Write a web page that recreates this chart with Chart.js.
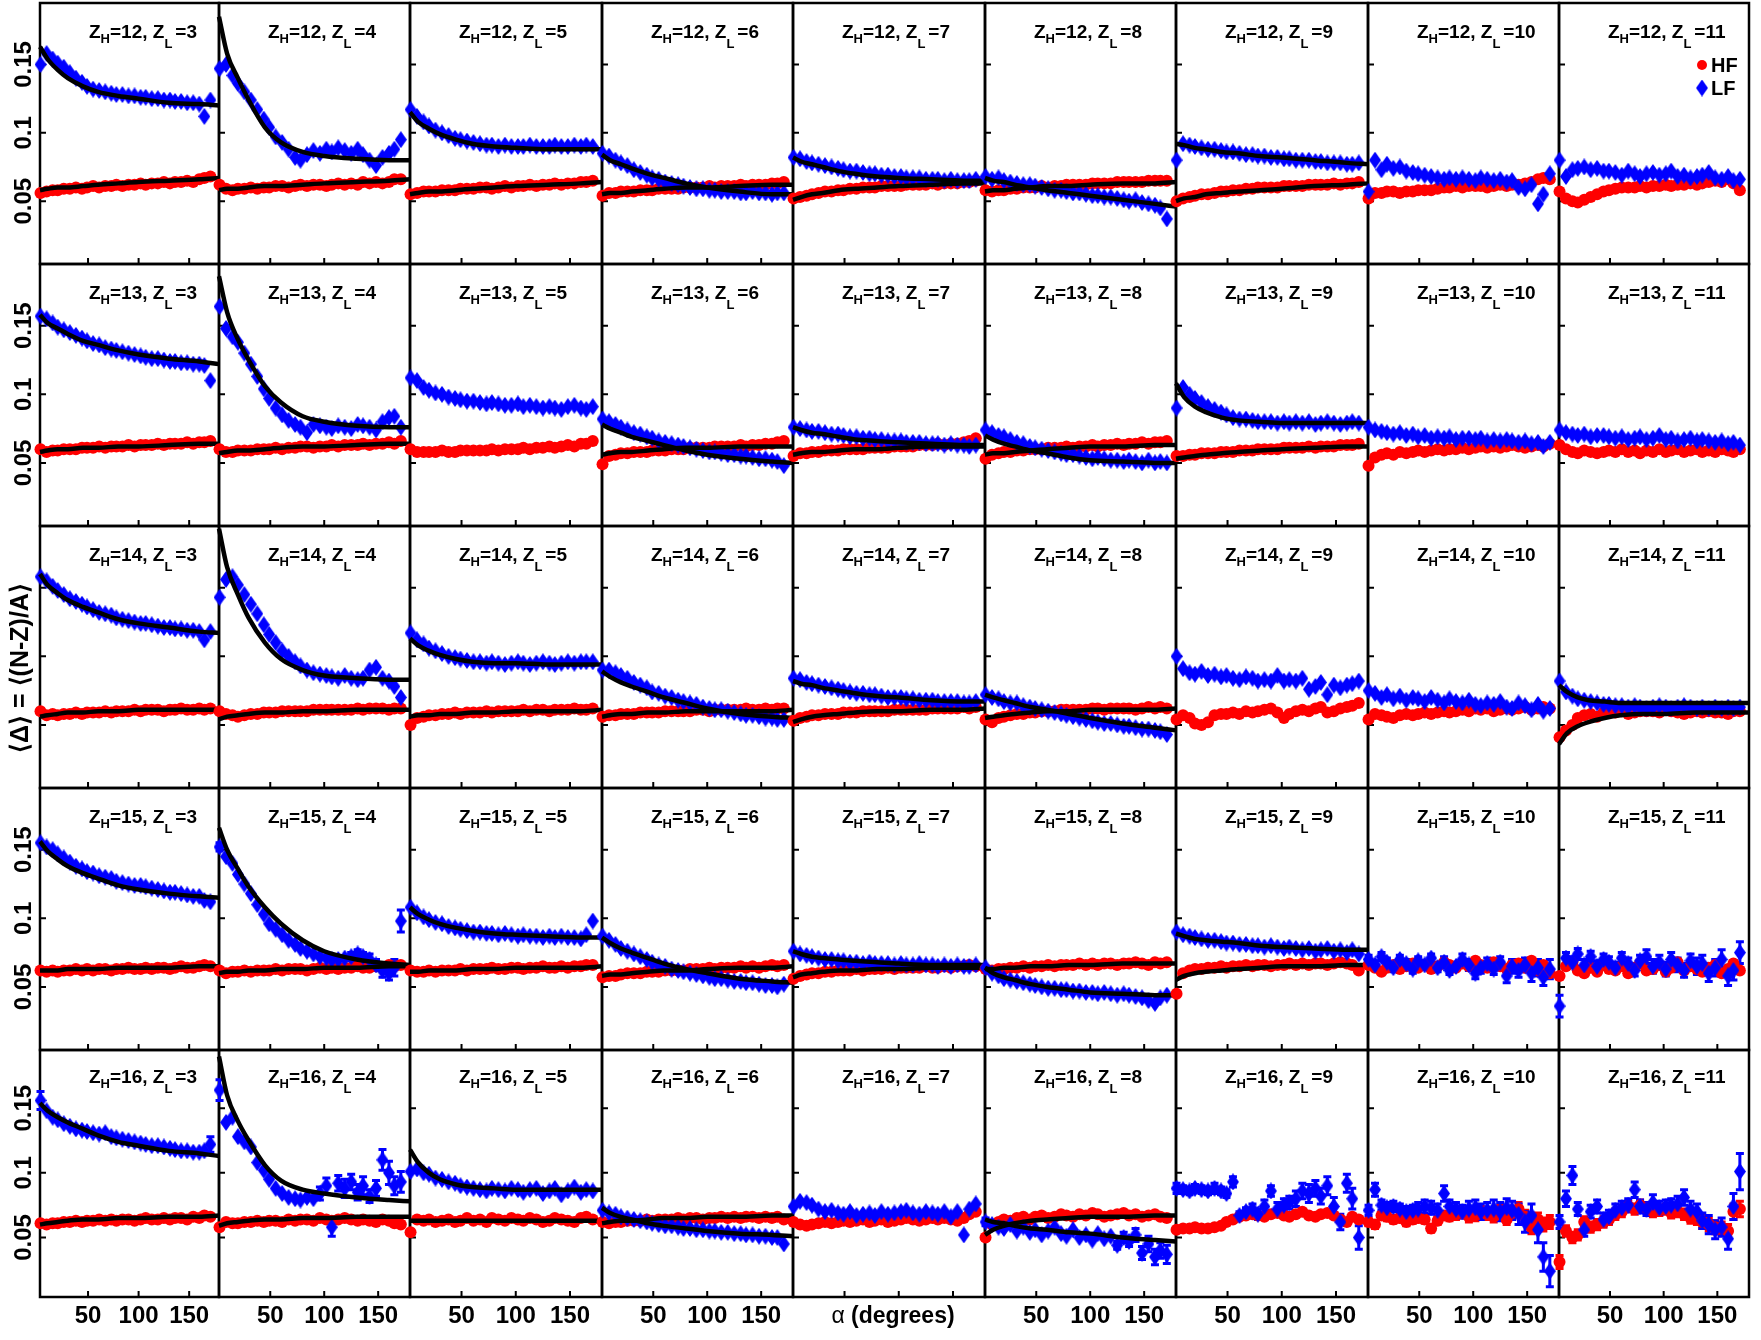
<!DOCTYPE html>
<html>
<head>
<meta charset="utf-8">
<title>HF / LF neutron excess vs alpha</title>
<script src="https://cdn.jsdelivr.net/npm/chart.js@4.4.1/dist/chart.umd.min.js"></script>
<style>
  body { margin: 0; background: #fff; }
  #wrap { position: relative; width: 1761px; height: 1340px; overflow: hidden; }
  #wrap canvas { position: absolute; }
</style>
</head>
<body>
<div id="wrap"></div>
<script>
// angle bins (degrees) of the data points
const alpha = [3,9,15,20,26,32,38,44,49,55, 61,67,73,78,84,90,96,102,107,113, 119,125,131,136,142,148,154,160,165,171];
const fitAlpha = [2.5,10,20,30,45,60,80,100,130,160,179.5];

const zH = [12, 13, 14, 15, 16];
const zL = [3, 4, 5, 6, 7, 8, 9, 10, 11];

const yTicks = [0.05, 0.1, 0.15];
const yTickLabels = ["0.05", "0.1", "0.15"];
const xTicks = [50, 100, 150];
const xTickLabels = ["50", "100", "150"];

// <Delta> in units of 1e-3, one list per panel (Z_L = 3 .. 11)
// Z_H = 12
const hf12 = [
  [56,57,58,58,59,59,60,59,60,61, 60,61,61,62,61,62,62,63,62,63, 63,64,63,64,64,65,64,66,67,68],
  [62,59,58,59,59,60,59,60,60,61, 61,60,61,62,61,62,62,61,62,63, 62,63,62,64,63,64,63,64,66,66],
  [55,56,57,57,57,58,58,58,59,59, 59,60,60,59,60,61,60,61,61,62, 61,62,62,63,62,63,63,64,64,65],
  [54,56,56,57,57,57,58,58,58,59, 59,59,59,60,60,60,60,61,60,61, 61,61,62,61,62,62,62,63,63,64],
  [52,53,54,55,56,57,57,58,58,59, 59,60,60,60,61,61,61,61,62,62, 62,62,63,62,63,63,63,64,64,65],
  [58,57,58,58,59,59,60,60,60,61, 60,61,61,62,62,62,62,63,63,63, 63,64,64,64,64,64,65,65,65,65],
  [50,52,53,54,55,55,56,57,57,58, 58,59,59,60,60,60,60,61,61,61, 61,62,62,62,62,63,62,63,63,64],
  [52,56,56,57,57,56,57,57,58,58, 58,59,60,60,61,60,61,61,61,60, 61,62,61,62,62,63,64,66,67,66],
  [57,52,50,49,51,53,55,57,58,59, 60,60,60,61,60,61,61,62,61,62, 62,63,62,63,64,65,64,66,63,58]
];
const lf12 = [
  [150,158,154,151,148,144,140,137,134,132, 131,130,129,128,128,127,127,126,126,125, 125,124,124,123,123,122,122,121,112,124],
  [147,150,142,136,130,124,117,110,104,97, 93,88,82,80,84,87,85,88,86,89, 87,85,88,84,80,76,82,85,88,95],
  [117,112,108,105,102,100,98,96,95,94, 93,92,91,91,90,91,90,90,90,91, 90,90,90,91,90,90,91,90,91,90],
  [85,83,80,78,76,73,71,69,67,66, 64,63,62,61,60,59,59,58,58,57, 57,57,56,56,57,56,56,55,56,56],
  [82,81,79,78,77,76,75,74,73,72, 72,71,70,70,69,69,68,68,67,67, 67,66,66,66,65,66,65,65,65,66],
  [68,66,67,65,64,63,62,62,61,60, 59,58,58,57,56,56,55,54,54,53, 53,52,51,50,51,49,48,47,45,37],
  [80,92,91,90,89,88,88,87,86,86, 85,84,84,83,83,82,82,81,81,80, 80,80,79,79,78,78,78,77,77,78],
  [57,80,73,77,74,75,72,71,70,69, 68,67,66,67,66,67,66,65,67,66, 65,66,64,65,60,59,62,48,55,70],
  [80,68,73,74,75,73,74,72,72,71, 69,72,70,68,70,71,69,70,72,68, 69,67,68,69,71,67,66,68,65,66]
];
const fitHF12 = [
  [58,59,60,60,61,62,63,64,65,66,67],
  [58,59,59,60,61,61,62,63,64,65,66],
  [55,56,57,57,58,59,60,61,62,63,64],
  [55,56,56,57,58,59,60,60,61,62,62],
  [51,53,55,56,58,59,60,61,62,63,63],
  [57,58,58,59,60,61,61,62,63,63,64],
  [50,52,53,55,56,57,58,59,61,62,63],
  null, null
];
const fitLF12 = [
  [163,154,146,140,134,130,127,125,122,121,120],
  [185,158,140,124,104,93,86,83,81,80,80],
  [115,108,103,99,95,92,90,89,88,88,88],
  [84,80,77,74,70,67,63,60,57,55,55],
  [82,79,77,75,72,70,68,67,66,65,65],
  [67,65,64,62,60,58,56,54,51,48,46],
  [92,91,89,88,86,85,83,82,80,78,77],
  null, null
];

// Z_H = 13
const hf13 = [
  [60,58,59,59,60,60,60,61,61,61, 62,61,62,62,62,63,62,63,63,63, 64,63,64,64,64,65,64,65,65,66],
  [60,58,58,59,59,59,60,60,60,61, 60,61,61,62,62,61,62,62,63,62, 63,63,63,64,63,64,64,65,64,66],
  [60,58,58,58,58,59,58,58,59,59, 59,59,59,60,59,60,60,60,61,60, 61,61,62,61,62,63,62,64,64,66],
  [49,55,56,57,57,58,58,58,59,59, 59,60,60,60,61,61,61,61,62,62, 62,62,63,62,63,63,64,64,65,66],
  [55,57,57,58,58,59,59,59,60,60, 60,60,61,61,61,61,62,62,62,62, 63,63,63,64,63,64,64,65,66,68],
  [53,56,57,58,58,59,59,60,60,60, 61,61,61,62,61,62,62,63,62,63, 63,64,63,64,64,65,64,65,65,66],
  [55,55,56,56,57,57,57,58,58,58, 59,59,59,60,60,60,60,61,61,61, 61,62,61,62,62,62,63,63,63,64],
  [48,54,56,57,56,58,57,58,59,58, 59,60,59,60,60,61,60,61,62,61, 62,61,62,63,62,61,62,63,62,64],
  [63,60,58,57,59,58,57,58,59,58, 60,58,59,57,59,58,60,58,59,60, 58,59,60,58,59,58,60,59,58,60]
];
const lf13 = [
  [157,155,152,149,147,145,143,141,139,137, 136,134,133,132,131,130,129,128,127,126, 126,125,124,124,123,123,122,122,121,110],
  [164,148,142,138,130,122,113,104,97,90, 85,81,78,76,72,78,77,76,75,77, 76,75,78,77,76,74,80,83,84,76],
  [112,110,105,103,101,100,98,97,96,95, 95,94,93,94,93,92,92,93,91,92, 91,90,91,90,89,91,92,90,89,91],
  [82,80,78,76,74,72,71,69,68,66, 65,64,63,62,61,60,59,58,58,57, 56,56,55,55,54,53,53,52,51,48],
  [76,75,74,73,73,72,71,71,70,69, 69,68,68,67,67,66,66,66,65,65, 65,64,64,64,63,64,63,63,62,63],
  [74,72,70,69,67,65,64,62,61,60, 59,58,57,56,56,55,54,53,54,53, 52,52,51,52,51,50,52,50,51,50],
  [90,105,100,97,94,91,89,87,85,83, 82,82,81,80,80,80,79,80,79,80, 79,80,78,79,80,79,78,79,80,79],
  [76,74,73,72,71,72,70,71,69,70, 68,69,68,69,67,68,68,67,68,66, 67,66,67,66,65,66,64,65,62,65],
  [74,72,71,70,71,69,70,70,69,68, 69,67,68,69,67,68,70,67,68,66, 67,68,66,67,66,65,66,64,65,63]
];
const fitHF13 = [
  [58,59,60,60,61,61,62,62,63,64,64],
  [57,58,59,59,60,61,62,62,63,64,64],
  null,
  [56,57,58,58,59,60,61,61,62,62,62],
  [56,57,58,58,59,60,60,61,62,62,62],
  [56,57,57,58,59,60,61,62,62,63,63],
  [53,54,55,56,57,58,59,60,61,62,62],
  null, null
];
const fitLF13 = [
  [158,152,148,144,139,136,132,129,126,124,122],
  [186,160,140,125,106,94,84,80,77,76,76],
  null,
  [78,75,72,69,66,63,59,56,53,51,50],
  [76,74,72,71,69,67,66,65,64,63,63],
  [70,67,64,62,59,57,54,52,51,50,50],
  [108,98,91,87,83,81,80,79,79,79,79],
  null, null
];

// Z_H = 14
const hf14 = [
  [60,57,58,57,58,58,59,58,59,59, 59,60,59,60,60,60,61,60,61,61, 61,60,61,61,62,61,61,62,61,62],
  [60,58,57,56,57,58,58,59,59,59, 60,60,60,60,60,61,61,61,61,61, 61,61,62,61,62,62,62,61,62,62],
  [50,55,56,57,57,58,58,59,58,59, 59,59,60,59,60,60,60,60,61,60, 61,61,60,61,61,61,62,61,61,62],
  [56,57,57,58,58,58,59,59,59,59, 60,60,60,60,60,61,61,60,61,61, 61,61,61,62,61,61,62,61,62,62],
  [53,55,56,57,57,58,58,58,59,59, 59,60,60,60,60,60,61,61,61,61, 61,61,62,62,62,62,62,63,62,63],
  [54,52,55,56,57,58,58,59,59,60, 60,60,61,61,61,61,61,62,62,61, 62,62,62,62,61,62,63,62,63,62],
  [54,57,55,51,50,52,57,58,58,59, 58,60,59,60,61,62,59,55,58,60, 61,60,62,63,59,60,62,63,64,66],
  [54,58,57,56,55,57,58,57,58,59, 58,59,60,59,60,61,60,62,61,62, 60,61,62,61,62,63,61,62,63,62],
  [41,46,50,55,57,58,56,59,60,59, 60,58,59,60,60,60,59,61,60,59, 58,59,60,59,60,59,59,58,60,60]
];
const lf14 = [
  [158,155,151,148,145,142,140,138,136,134, 132,131,130,128,127,126,125,124,124,123, 122,121,121,120,120,119,119,118,112,118],
  [143,156,158,152,145,138,131,123,116,110, 104,100,96,93,90,88,87,86,85,84, 86,84,83,84,90,92,84,82,78,70],
  [117,112,109,106,104,102,100,99,98,97, 96,96,95,96,95,94,95,96,95,94, 95,96,95,94,95,96,95,96,96,96],
  [90,90,88,86,84,81,79,77,74,73, 71,70,68,67,66,65,63,62,61,61, 60,59,58,57,57,56,55,55,54,54],
  [84,83,81,80,79,78,77,76,75,74, 73,73,72,72,71,70,70,70,69,69, 68,68,68,67,67,67,67,66,66,67],
  [72,70,69,67,66,66,64,63,62,61, 60,59,58,57,56,55,54,53,52,51, 51,50,49,49,48,47,47,46,45,43],
  [100,91,88,87,89,86,87,85,86,84, 83,85,84,82,83,82,86,82,83,82, 84,76,78,81,72,79,77,79,80,82],
  [75,73,70,72,69,71,68,70,69,67, 70,68,66,69,67,66,68,65,64,66, 65,67,63,62,66,64,61,65,60,62],
  [82,74,71,69,68,67,66,65,65,64, 64,63,64,63,62,63,64,63,62,63, 64,63,62,63,62,63,62,63,62,63]
];
const fitHF14 = [
  [56,57,58,59,59,60,60,61,61,61,61],
  [54,56,57,58,59,59,60,60,61,61,61],
  [56,57,57,58,58,59,59,60,60,60,61],
  [56,57,58,58,59,59,60,60,60,60,61],
  [52,54,56,57,58,59,60,60,61,61,62],
  [55,56,57,58,59,60,60,61,61,61,62],
  null, null,
  [36,44,49,52,55,57,58,58,59,59,59]
];
const fitLF14 = [
  [160,152,146,141,136,132,127,124,121,118,117],
  [193,165,145,128,110,98,90,86,84,83,83],
  [113,108,104,101,98,96,95,95,94,94,94],
  [89,85,81,78,74,70,66,62,58,56,55],
  [82,80,79,77,75,73,71,70,68,67,67],
  [72,70,68,66,63,61,58,55,51,48,46],
  null, null,
  [79,74,70,68,67,66,66,66,66,66,66]
];

// Z_H = 15
const hf15 = [
  [62,61,62,61,62,62,63,62,63,62, 63,63,62,63,63,64,63,63,64,63, 64,64,63,64,65,64,64,65,66,65],
  [62,60,61,61,62,61,62,62,62,63, 62,63,63,63,62,63,64,63,64,63, 64,64,65,64,64,65,64,66,65,66],
  [62,61,61,62,61,62,62,62,63,62, 63,63,63,64,63,63,64,64,63,64, 64,65,64,64,65,64,65,65,66,66],
  [57,58,58,59,60,60,60,61,61,61, 62,62,62,62,63,63,63,64,63,64, 64,64,65,64,65,64,65,66,65,66],
  [56,58,59,60,60,61,61,62,62,62, 63,62,63,63,63,64,63,64,64,64, 64,65,64,64,65,64,65,65,66,65],
  [63,62,63,63,64,64,65,64,65,65, 66,65,66,66,66,67,66,67,66,67, 67,66,67,67,68,67,66,68,67,68],
  [45,60,62,63,63,64,64,65,64,65, 65,66,65,66,66,65,66,66,67,66, 67,66,67,67,66,67,68,67,66,62],
  [66,64,61,64,66,63,65,67,64,66, 63,65,68,66,64,67,65,69,66,64, 68,65,63,66,67,64,69,62,66,60],
  [58,65,68,62,60,64,61,66,63,62, 65,60,64,67,62,63,66,61,64,68, 62,65,63,61,64,66,60,63,67,62]
];
const lf15 = [
  [155,152,150,147,144,141,138,136,134,133, 131,130,129,127,126,125,124,124,123,122, 121,120,119,119,118,117,116,116,113,112],
  [152,145,140,132,125,118,110,103,96,92, 88,84,81,78,76,74,72,71,70,70, 71,72,74,72,70,66,62,60,64,98],
  [108,104,101,99,97,96,94,93,92,91, 90,90,89,89,88,89,88,87,88,87, 87,86,87,86,87,86,86,85,88,98],
  [87,84,81,78,76,74,72,70,68,66, 65,63,62,61,60,59,58,57,56,56, 55,54,54,53,53,52,51,51,50,52],
  [76,74,73,72,71,70,70,69,69,68, 68,67,68,67,67,67,66,67,66,66, 67,66,66,65,66,65,66,65,65,66],
  [64,60,58,56,55,54,53,52,51,50, 49,49,48,48,47,47,46,46,45,46, 45,44,45,44,43,42,40,38,42,44],
  [90,88,87,86,85,84,84,83,82,82, 81,81,80,80,79,80,79,78,79,78, 77,78,76,77,78,76,77,75,77,74],
  [70,66,72,68,64,70,67,63,69,66, 71,64,68,62,65,70,66,60,64,67, 63,68,58,65,62,66,60,64,57,63],
  [36,71,68,74,66,72,65,70,68,64, 71,67,62,69,72,65,68,63,70,66, 62,69,65,67,60,64,70,58,62,75]
];
const fitHF15 = [
  [62,62,62,63,63,63,64,64,64,65,65],
  [60,61,61,62,62,63,63,64,64,65,65],
  [61,61,62,62,62,63,63,64,64,64,65],
  [58,59,59,60,61,62,62,63,64,64,65],
  [57,59,60,61,62,62,63,63,64,64,64],
  [63,63,64,64,65,65,66,66,67,67,67],
  [55,58,60,61,62,63,64,65,65,66,66],
  null, null
];
const fitLF15 = [
  [156,149,143,138,133,129,124,121,118,116,115],
  [166,150,136,123,108,96,84,76,70,67,66],
  [108,103,99,96,93,91,89,88,87,86,86],
  [86,82,78,75,71,67,63,60,56,54,53],
  [76,74,72,71,70,69,68,67,66,66,66],
  [64,60,57,55,52,50,48,46,45,44,44],
  [89,87,85,84,83,82,80,79,78,77,77],
  null, null
];

// Z_H = 16
const hf16 = [
  [61,60,61,61,62,62,63,62,63,63, 64,63,64,63,64,64,63,64,65,64, 64,65,64,65,65,64,66,65,67,66],
  [58,62,61,61,62,62,63,62,63,63, 62,64,63,64,64,63,65,64,63,64, 65,64,63,64,63,62,64,63,61,60],
  [54,64,63,64,62,63,64,62,63,65, 63,64,62,65,64,63,65,64,63,65, 64,62,63,65,64,63,62,65,66,64],
  [62,61,62,62,63,63,63,64,63,64, 64,64,65,64,65,65,64,65,65,66, 65,66,65,66,66,65,66,65,66,64],
  [62,60,59,60,61,62,61,62,63,62, 63,64,62,63,64,62,63,64,65,64, 63,64,65,64,65,64,63,65,68,70],
  [50,60,62,64,63,65,66,64,66,67, 65,66,68,67,66,68,67,69,68,66, 67,68,69,67,68,66,67,68,66,65],
  [56,57,57,58,57,57,58,59,62,64, 66,67,68,67,66,68,69,67,66,68, 70,67,66,68,69,67,64,62,66,64],
  [62,60,67,66,64,65,62,64,65,64, 57,63,67,66,68,69,66,67,70,68, 66,71,64,69,72,66,58,64,60,62],
  [31,55,50,52,62,58,60,62,64,68, 70,74,72,75,73,70,71,72,69,70, 68,65,64,62,60,58,57,55,70,72]
];
const lf16 = [
  [156,148,143,141,138,136,134,133,132,131, 130,131,128,127,126,125,124,123,122,121, 121,120,119,118,117,117,116,116,117,122],
  [164,139,143,128,124,120,108,102,95,88, 84,81,80,79,81,80,84,90,58,92, 88,93,85,90,82,88,110,100,90,93],
  [101,103,100,99,96,95,93,92,90,89, 88,87,86,88,87,86,88,87,85,87, 88,84,86,88,83,86,89,85,87,86],
  [71,69,68,66,65,64,63,62,61,60, 59,59,58,57,57,56,56,55,55,54, 54,53,53,52,52,51,51,50,50,45],
  [74,78,77,75,72,70,71,69,68,70, 67,68,69,67,70,68,69,70,71,69, 68,70,69,68,70,66,70,52,72,76],
  [62,60,58,57,60,55,58,54,56,52, 55,58,53,51,56,50,52,48,53,49, 51,44,50,47,52,38,45,35,40,37],
  [88,87,86,88,87,86,88,86,84,93, 67,70,72,68,74,86,72,75,77,80, 86,84,88,82,90,74,62,92,80,50],
  [71,87,75,73,74,72,70,71,72,74, 73,71,84,74,72,70,72,73,70,71, 72,70,73,71,68,62,67,56,35,24],
  [62,80,98,72,56,70,74,64,66,71, 73,75,87,74,72,77,73,74,75,76, 81,72,70,63,60,56,58,49,74,101]
];
const fitHF16 = [
  [60,61,62,63,64,64,65,65,66,66,67],
  [59,61,62,63,64,64,65,65,66,66,66],
  [63,63,63,63,63,63,63,63,63,63,63],
  [61,62,63,63,64,65,65,66,66,67,67],
  null,
  [52,56,59,61,63,64,65,66,66,67,67],
  null, null, null
];
const fitLF16 = [
  [154,148,143,139,134,129,124,121,117,115,113],
  [190,160,140,125,106,94,87,84,81,79,78],
  [118,108,100,95,91,89,88,87,87,87,87],
  [73,69,66,64,61,59,57,55,53,52,51],
  null,
  [64,62,61,59,57,56,54,53,50,48,47],
  null, null, null
];

// statistical errors (1e-3) where the bars stick out of the markers
const lfErr15 = [
  null,
  [3,0,0,0,0,0,0,0,0,0, 0,0,0,0,0,0,0,0,0,0, 0,3,3,3,4,4,5,5,6,8],
  null, null, null, null, null,
  [3,3,3,3,3,3,3,3,3,3, 3,3,4,3,3,4,4,4,4,4, 4,4,5,5,5,5,6,6,6,7],
  [8,4,4,4,4,4,4,4,4,4, 4,4,4,4,5,5,5,5,5,5, 5,5,6,6,6,6,7,7,7,8]
];
const lfErr16 = [
  [7,0,0,0,0,0,0,0,0,0, 0,0,0,0,0,0,0,0,0,0, 0,0,0,0,0,0,0,0,0,6],
  [8,0,0,0,0,0,0,0,0,0, 0,0,0,0,0,0,5,6,7,6, 7,6,6,7,5,6,8,9,7,8],
  null, null, null,
  [3,0,0,0,0,0,0,0,0,0, 0,0,0,0,0,0,0,0,0,0, 0,3,4,4,5,5,6,6,6,7],
  [4,3,3,3,3,3,4,3,3,4, 3,3,4,4,5,4,5,5,5,6, 6,7,6,6,7,7,6,7,8,9],
  [4,5,4,4,4,4,4,4,5,5, 5,5,6,5,5,5,6,6,6,6, 7,7,7,7,8,8,9,10,11,12],
  [5,6,7,5,5,5,5,5,5,5, 5,5,6,5,5,6,5,5,5,6, 6,6,6,6,7,7,7,8,10,14]
];
const hfErr16 = [
  null, null, null, null, null, null, null,
  [3,3,3,3,3,3,3,3,3,3, 3,3,3,3,4,4,4,4,4,4, 4,4,4,5,5,5,5,5,5,5],
  [5,4,4,4,4,4,4,4,4,4, 4,4,4,4,4,4,4,4,4,4, 4,4,4,5,5,5,5,5,6,6]
];

const hfRows = [hf12, hf13, hf14, hf15, hf16];
const lfRows = [lf12, lf13, lf14, lf15, lf16];
const fitHFRows = [fitHF12, fitHF13, fitHF14, fitHF15, fitHF16];
const fitLFRows = [fitLF12, fitLF13, fitLF14, fitLF15, fitLF16];
const lfErrRows = [null, null, null, lfErr15, lfErr16];
const hfErrRows = [null, null, null, null, hfErr16];

// page layout of the 5 x 9 grid of panels
const colLeft = [40, 219, 410, 602, 793, 985, 1176, 1368, 1559, 1749];
const rowTop = [3, 264, 526, 788, 1050, 1297];

const FONT = '"Liberation Sans", Arial, Helvetica, sans-serif';
const RED = "#ff0000";
const BLUE = "#0000ff";

// tall blue diamond used as LF marker
const diamond = document.createElement("canvas");
diamond.width = 12;
diamond.height = 17;
(function () {
  const d = diamond.getContext("2d");
  d.fillStyle = BLUE;
  d.beginPath();
  d.moveTo(6, 0);
  d.lineTo(12, 8.5);
  d.lineTo(6, 17);
  d.lineTo(0, 8.5);
  d.closePath();
  d.fill();
})();

function toPoints(xs, ys) {
  return xs.map((x, i) => ({ x: x, y: ys[i] / 1000 }));
}

function drawTitle(ctx, x, y, h, l) {
  const big = "bold 19px " + FONT;
  const small = "bold 13px " + FONT;
  ctx.fillStyle = "#000";
  ctx.textAlign = "left";
  ctx.textBaseline = "alphabetic";
  let cx = x;
  ctx.font = big;
  ctx.fillText("Z", cx, y);
  cx += ctx.measureText("Z").width;
  ctx.font = small;
  ctx.fillText("H", cx, y + 5);
  cx += ctx.measureText("H").width;
  ctx.font = big;
  const mid = "=" + h + ", Z";
  ctx.fillText(mid, cx, y);
  cx += ctx.measureText(mid).width;
  ctx.font = small;
  ctx.fillText("L", cx, y + 10);
  cx += ctx.measureText("L").width + 3;
  ctx.font = big;
  ctx.fillText("=" + l, cx, y);
}

function drawErrors(chart, ctx, ds) {
  if (!ds.errors) return;
  const xs = chart.scales.x, ys = chart.scales.y;
  ctx.strokeStyle = ds.errColor;
  ds.data.forEach((p, i) => {
    const e = ds.errors[i] / 1000;
    if (!e) return;
    const px = xs.getPixelForValue(p.x);
    const y1 = ys.getPixelForValue(p.y - e), y2 = ys.getPixelForValue(p.y + e);
    ctx.lineWidth = 3;
    ctx.beginPath();
    ctx.moveTo(px, y1);
    ctx.lineTo(px, y2);
    ctx.moveTo(px - 4, y1);
    ctx.lineTo(px + 4, y1);
    ctx.moveTo(px - 4, y2);
    ctx.lineTo(px + 4, y2);
    ctx.stroke();
  });
}

const panelPlugin = {
  id: "panel",
  beforeDatasetsDraw(chart) {
    const ctx = chart.ctx;
    const a = chart.chartArea;
    const xs = chart.scales.x, ys = chart.scales.y;
    ctx.save();
    ctx.strokeStyle = "#000";
    ctx.lineWidth = 2.5;
    ctx.strokeRect(a.left, a.top, a.right - a.left, a.bottom - a.top);
    // inward tick marks
    ctx.lineWidth = 2;
    ctx.beginPath();
    yTicks.forEach(v => {
      const py = ys.getPixelForValue(v);
      ctx.moveTo(a.left, py);
      ctx.lineTo(a.left + 6, py);
    });
    xTicks.forEach(v => {
      const px = xs.getPixelForValue(v);
      ctx.moveTo(px, a.bottom);
      ctx.lineTo(px, a.bottom - 6);
    });
    ctx.stroke();
    // error bars under the markers
    chart.data.datasets.forEach(ds => drawErrors(chart, ctx, ds));
    ctx.restore();
  },
  afterDraw(chart) {
    const o = chart.options.plugins.panel;
    const ctx = chart.ctx;
    const a = chart.chartArea;
    const xs = chart.scales.x, ys = chart.scales.y;
    ctx.save();
    drawTitle(ctx, a.left + 49, a.top + (o.row === 4 ? 33 : 35), o.h, o.l);

    ctx.fillStyle = "#000";
    if (o.col === 0) {
      ctx.textAlign = "center";
      ctx.textBaseline = "middle";
      if (o.row === 2) {
        // axis title replaces the tick labels of the middle row
        ctx.save();
        ctx.translate(a.left - 19, a.top + 142);
        ctx.rotate(-Math.PI / 2);
        ctx.font = "bold 25px " + FONT;
        ctx.fillText("\u27E8\u0394\u27E9 = \u27E8(N-Z)/A\u27E9", 0, 0);
        ctx.restore();
      } else {
        ctx.font = "bold 24px " + FONT;
        yTicks.forEach((v, i) => {
          ctx.save();
          ctx.translate(a.left - 16, ys.getPixelForValue(v));
          ctx.rotate(-Math.PI / 2);
          ctx.fillText(yTickLabels[i], 0, 0);
          ctx.restore();
        });
      }
    }
    if (o.row === 4) {
      ctx.textBaseline = "middle";
      if (o.col === 4) {
        const cx = a.left + 100, cy = a.bottom + 20;
        ctx.font = "23px " + FONT;
        const w1 = ctx.measureText("\u03B1").width;
        ctx.font = "bold 23px " + FONT;
        const w2 = ctx.measureText(" (degrees)").width;
        const x0 = cx - (w1 + w2) / 2;
        ctx.textAlign = "left";
        ctx.font = "23px " + FONT;
        ctx.fillText("\u03B1", x0, cy);
        ctx.font = "bold 23px " + FONT;
        ctx.fillText(" (degrees)", x0 + w1, cy);
      } else {
        ctx.font = "bold 24px " + FONT;
        ctx.textAlign = "center";
        xTicks.forEach((v, i) => {
          ctx.fillText(xTickLabels[i], xs.getPixelForValue(v), a.bottom + 19);
        });
      }
    }
    if (o.row === 0 && o.col === 8) {
      // legend
      const lx = a.left + 143;
      ctx.fillStyle = RED;
      ctx.beginPath();
      ctx.arc(lx, a.top + 62, 5, 0, Math.PI * 2);
      ctx.fill();
      ctx.drawImage(diamond, lx - diamond.width / 2, a.top + 85 - diamond.height / 2);
      ctx.fillStyle = "#000";
      ctx.font = "bold 20px " + FONT;
      ctx.textAlign = "left";
      ctx.textBaseline = "middle";
      ctx.fillText("HF", lx + 9, a.top + 63);
      ctx.fillText("LF", lx + 9, a.top + 86);
    }
    ctx.restore();
  }
};

const wrap = document.getElementById("wrap");

zH.forEach((h, r) => {
  zL.forEach((l, c) => {
    const L = colLeft[c], W = colLeft[c + 1] - L;
    const T = rowTop[r], H = rowTop[r + 1] - T;
    const pad = {
      left: c === 0 ? L : 8,
      right: 8,
      top: r === 0 ? T : 8,
      bottom: r === 4 ? 1340 - rowTop[5] : 8
    };
    const cv = document.createElement("canvas");
    cv.width = W + pad.left + pad.right;
    cv.height = H + pad.top + pad.bottom;
    cv.style.left = (L - pad.left) + "px";
    cv.style.top = (T - pad.top) + "px";
    cv.style.width = cv.width + "px";
    cv.style.height = cv.height + "px";
    wrap.appendChild(cv);

    const hfErr = hfErrRows[r] ? hfErrRows[r][c] : null;
    const lfErr = lfErrRows[r] ? lfErrRows[r][c] : null;
    const datasets = [
      {
        label: "HF", data: toPoints(alpha, hfRows[r][c]), errors: hfErr, errColor: RED,
        pointStyle: "circle", pointRadius: 6, pointBorderWidth: 0,
        pointBackgroundColor: RED, showLine: false, order: 4, clip: 8
      },
      {
        label: "LF", data: toPoints(alpha, lfRows[r][c]), errors: lfErr, errColor: BLUE,
        pointStyle: diamond, pointRadius: 7, showLine: false, order: 3, clip: 8
      }
    ];
    const fh = fitHFRows[r][c], fl = fitLFRows[r][c];
    if (fh) datasets.push({
      label: "HF fit", data: toPoints(fitAlpha, fh), showLine: true,
      pointRadius: 0, borderColor: "#000", borderWidth: 4.5,
      cubicInterpolationMode: "monotone", order: 2, clip: 3
    });
    if (fl) datasets.push({
      label: "LF fit", data: toPoints(fitAlpha, fl), showLine: true,
      pointRadius: 0, borderColor: "#000", borderWidth: 4.5,
      cubicInterpolationMode: "monotone", order: 1, clip: 3
    });

    new Chart(cv, {
      type: "scatter",
      data: { datasets: datasets },
      options: {
        responsive: false,
        animation: false,
        devicePixelRatio: 1,
        events: [],
        layout: { padding: pad, autoPadding: false },
        scales: {
          x: { type: "linear", min: 2.5, max: 179.5, display: false },
          y: { type: "linear", min: 0.004, max: 0.195, display: false }
        },
        plugins: {
          legend: { display: false },
          tooltip: { enabled: false },
          panel: { row: r, col: c, h: h, l: l }
        }
      },
      plugins: [panelPlugin]
    });
  });
});
</script>
</body>
</html>
